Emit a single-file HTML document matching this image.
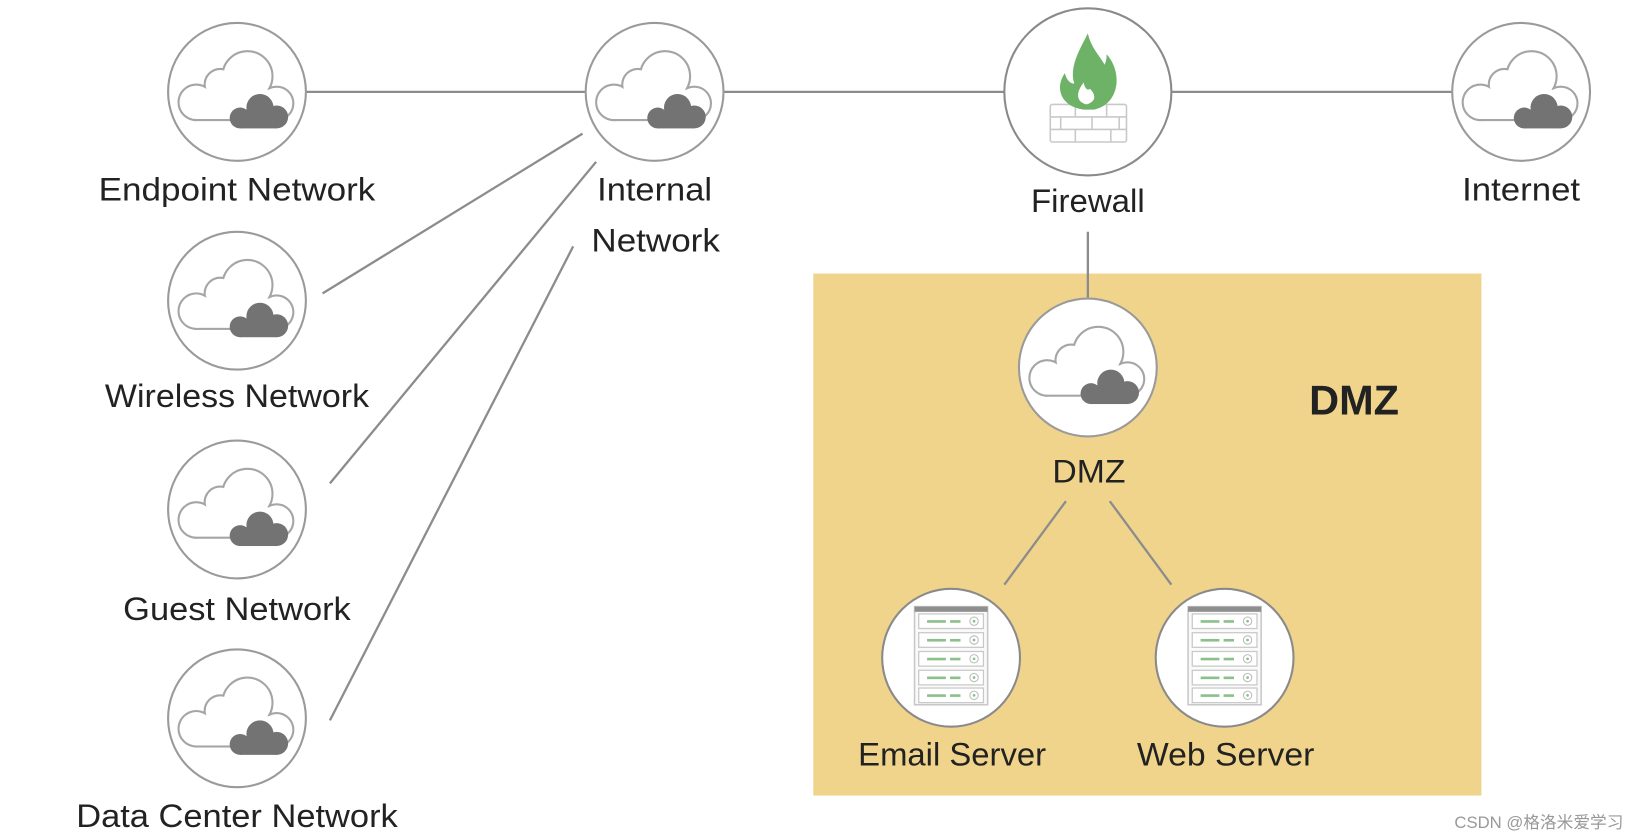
<!DOCTYPE html>
<html><head><meta charset="utf-8"><style>
html,body{margin:0;padding:0;background:#fff;}
svg{display:block;}
text{font-family:"Liberation Sans","Noto Sans CJK SC",sans-serif;fill:#222;}
</style></head><body>
<svg width="1637" height="839" viewBox="0 0 1568 803.6" preserveAspectRatio="none" xmlns="http://www.w3.org/2000/svg">
<defs>
<g id="cloud">
<circle r="66" fill="#fff" stroke="#9a9a9a" stroke-width="2"/>
<g transform="translate(0,3)">
<g fill="#fff" stroke="#a5a5a5" stroke-width="4">
<circle cx="-39" cy="7" r="16"/><circle cx="-16" cy="-10" r="14"/><circle cx="10" cy="-18" r="23"/><circle cx="38" cy="8" r="15"/><rect x="-39" y="-5" width="77" height="28"/>
</g>
<g fill="#fff">
<circle cx="-39" cy="7" r="16"/><circle cx="-16" cy="-10" r="14"/><circle cx="10" cy="-18" r="23"/><circle cx="38" cy="8" r="15"/><rect x="-39" y="-5" width="77" height="28"/>
</g>
<g fill="#737373">
<circle cx="3" cy="22" r="10"/><circle cx="22" cy="12" r="13"/><circle cx="38" cy="21" r="11"/><rect x="3" y="14" width="35" height="18"/>
</g>
</g>
</g>
<g id="unit">
<rect x="-31" y="0" width="62" height="14" fill="#fff" stroke="#c8c8c8" stroke-width="1.2"/>
<rect x="-23" y="6" width="18" height="2.5" fill="#8cc08a"/>
<rect x="-1" y="6" width="10" height="2.5" fill="#8cc08a"/>
<circle cx="22" cy="7" r="4" fill="#fff" stroke="#bbb" stroke-width="1"/>
<circle cx="22" cy="7" r="1.3" fill="#8cc08a"/>
</g>
<g id="server">
<circle r="66" fill="#fff" stroke="#8a8a8a" stroke-width="2"/>
<rect x="-35" y="-49" width="70" height="94" fill="#fafafa" stroke="#c8c8c8" stroke-width="1.5"/>
<rect x="-35" y="-49" width="70" height="5" fill="#8e8e8e"/>
<use href="#unit" y="-42"/>
<use href="#unit" y="-24"/>
<use href="#unit" y="-6"/>
<use href="#unit" y="12"/>
<use href="#unit" y="29"/>
</g>
</defs>

<rect x="779" y="262" width="640" height="500" fill="#f0d48b"/>

<g stroke="#8c8c8c" stroke-width="2.2" fill="none">
<line x1="293" y1="88" x2="561" y2="88"/>
<line x1="693" y1="88" x2="962" y2="88"/>
<line x1="1122" y1="88" x2="1391" y2="88"/>
<line x1="309" y1="281" x2="558" y2="128"/>
<line x1="316" y1="463" x2="571" y2="155"/>
<line x1="316" y1="690" x2="549" y2="236"/>
<line x1="1042" y1="222" x2="1042" y2="288"/>
<line x1="1021" y1="480" x2="962" y2="560"/>
<line x1="1063" y1="480" x2="1122" y2="560"/>
</g>

<use href="#cloud" x="227" y="88"/>
<use href="#cloud" x="627" y="88"/>
<use href="#cloud" x="1457" y="88"/>
<use href="#cloud" x="227" y="288"/>
<use href="#cloud" x="227" y="488"/>
<use href="#cloud" x="227" y="688"/>
<use href="#cloud" x="1042" y="352"/>

<circle cx="1042" cy="88" r="80" fill="#fff" stroke="#8a8a8a" stroke-width="2"/>
<g transform="translate(1042,88)">
<g fill="none" stroke="#c8c8c8" stroke-width="1.5">
<rect x="-36" y="12" width="73" height="36" rx="2"/>
<line x1="-36" y1="24" x2="37" y2="24"/>
<line x1="-36" y1="36" x2="37" y2="36"/>
<line x1="-12" y1="12" x2="-12" y2="24"/>
<line x1="18" y1="12" x2="18" y2="24"/>
<line x1="-26" y1="24" x2="-26" y2="36"/>
<line x1="4" y1="24" x2="4" y2="36"/>
<line x1="30" y1="24" x2="30" y2="36"/>
<line x1="-12" y1="36" x2="-12" y2="48"/>
<line x1="22" y1="36" x2="22" y2="48"/>
</g>
<path d="M -4 17 C -26 14 -32 -4 -22 -18 C -20 -10 -16 -8 -13 -8 C -18 -24 -8 -40 0 -56 C 3 -42 12 -34 16 -26 C 18 -30 18 -34 18 -36 C 34 -18 30 12 6 17 Z" fill="#6db267"/>
<path d="M -1 12 C -11 10 -12 1 -4 -9 C -3 -3 0 -1 2 -3 C 5 0 11 8 -1 12 Z" fill="#fff"/>
</g>

<use href="#server" x="911" y="630"/>
<use href="#server" x="1173" y="630"/>

<g font-size="31" text-anchor="middle">
<text x="227" y="192" textLength="265" lengthAdjust="spacingAndGlyphs">Endpoint Network</text>
<text x="627" y="192" textLength="110" lengthAdjust="spacingAndGlyphs">Internal</text>
<text x="628" y="241" textLength="123" lengthAdjust="spacingAndGlyphs">Network</text>
<text x="1042" y="203" textLength="109" lengthAdjust="spacingAndGlyphs">Firewall</text>
<text x="1457" y="192" textLength="113" lengthAdjust="spacingAndGlyphs">Internet</text>
<text x="227" y="390" textLength="253" lengthAdjust="spacingAndGlyphs">Wireless Network</text>
<text x="227" y="594" textLength="218" lengthAdjust="spacingAndGlyphs">Guest Network</text>
<text x="227" y="792" textLength="308" lengthAdjust="spacingAndGlyphs">Data Center Network</text>
<text x="1043" y="462" textLength="70" lengthAdjust="spacingAndGlyphs">DMZ</text>
<text x="912" y="733" textLength="180" lengthAdjust="spacingAndGlyphs">Email Server</text>
<text x="1174" y="733" textLength="170" lengthAdjust="spacingAndGlyphs">Web Server</text>
</g>
<text x="1297" y="397" font-size="40" font-weight="bold" text-anchor="middle" textLength="86" lengthAdjust="spacingAndGlyphs">DMZ</text>
<text x="1555" y="793" font-size="16" text-anchor="end" style="fill:#999">CSDN @格洛米爱学习</text>
</svg>
</body></html>
